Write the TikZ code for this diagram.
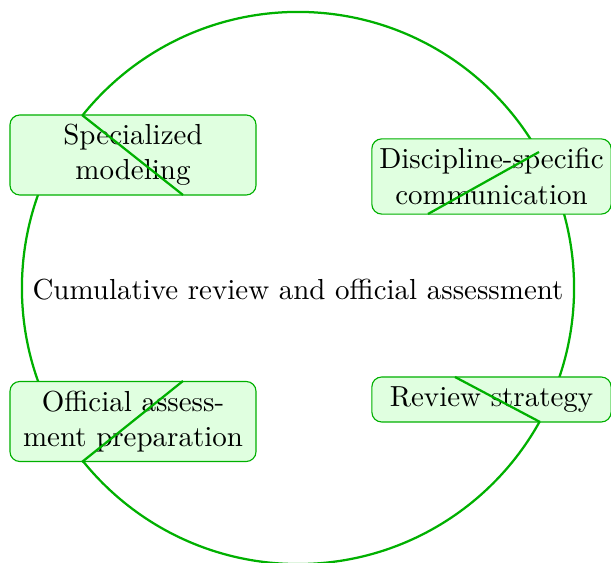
\documentclass[tikz,border=0pt]{standalone}
\usepackage{tikz}
\usetikzlibrary{positioning}
\begin{document}
\begin{tikzpicture}[x=0.0125cm,y=-0.0125cm, font=\fontsize{10.3pt}{12.6pt}\selectfont]
    % Color and styles
    \definecolor{mygreen}{RGB}{0, 176, 0} % ring green
    \definecolor{mylight}{RGB}{224, 255, 224} % box fill
    \tikzstyle{stage}=[draw=mygreen, fill=mylight, rounded corners=3.5pt, align=center, inner sep=2pt, minimum height=1cm]
    \tikzstyle{cycle}=[mygreen, thick]

    \useasboundingbox (0,0) rectangle (611,563);

    % Big ring behind the boxes
    \draw[cycle] (298,288) circle (3.45cm);

    % Centre text
    \node (centre) at (298,290) {Cumulative review and official assessment};

    % Stage boxes
    \node[stage, minimum width=3.075cm] (model) at (133,155) {Specialized\\modeling};
    \node[stage, minimum width=2.99cm, minimum height=0.94cm] (comm) at (491.5,176.5) {Discipline-specific\\communication};
    \node[stage, minimum width=3.075cm] (prep) at (133,421.5) {Official assess-\\ment preparation};
    \node[stage, minimum width=2.99cm, minimum height=0.5625cm] (strat) at (491.5,399.5) {Review strategy};

    % Strokes across the boxes
    \coordinate (m1) at (82,115);  \coordinate (m2) at (183,195);
    \coordinate (c1) at (539,152); \coordinate (c2) at (428,214);
    \coordinate (s1) at (540,422); \coordinate (s2) at (455,377);
    \coordinate (p1) at (82,462);  \coordinate (p2) at (183,381);
    \draw[cycle] (m1) -- (m2);
    \draw[cycle] (c1) -- (c2);
    \draw[cycle] (s1) -- (s2);
    \draw[cycle] (p1) -- (p2);

\end{tikzpicture}
\end{document}
